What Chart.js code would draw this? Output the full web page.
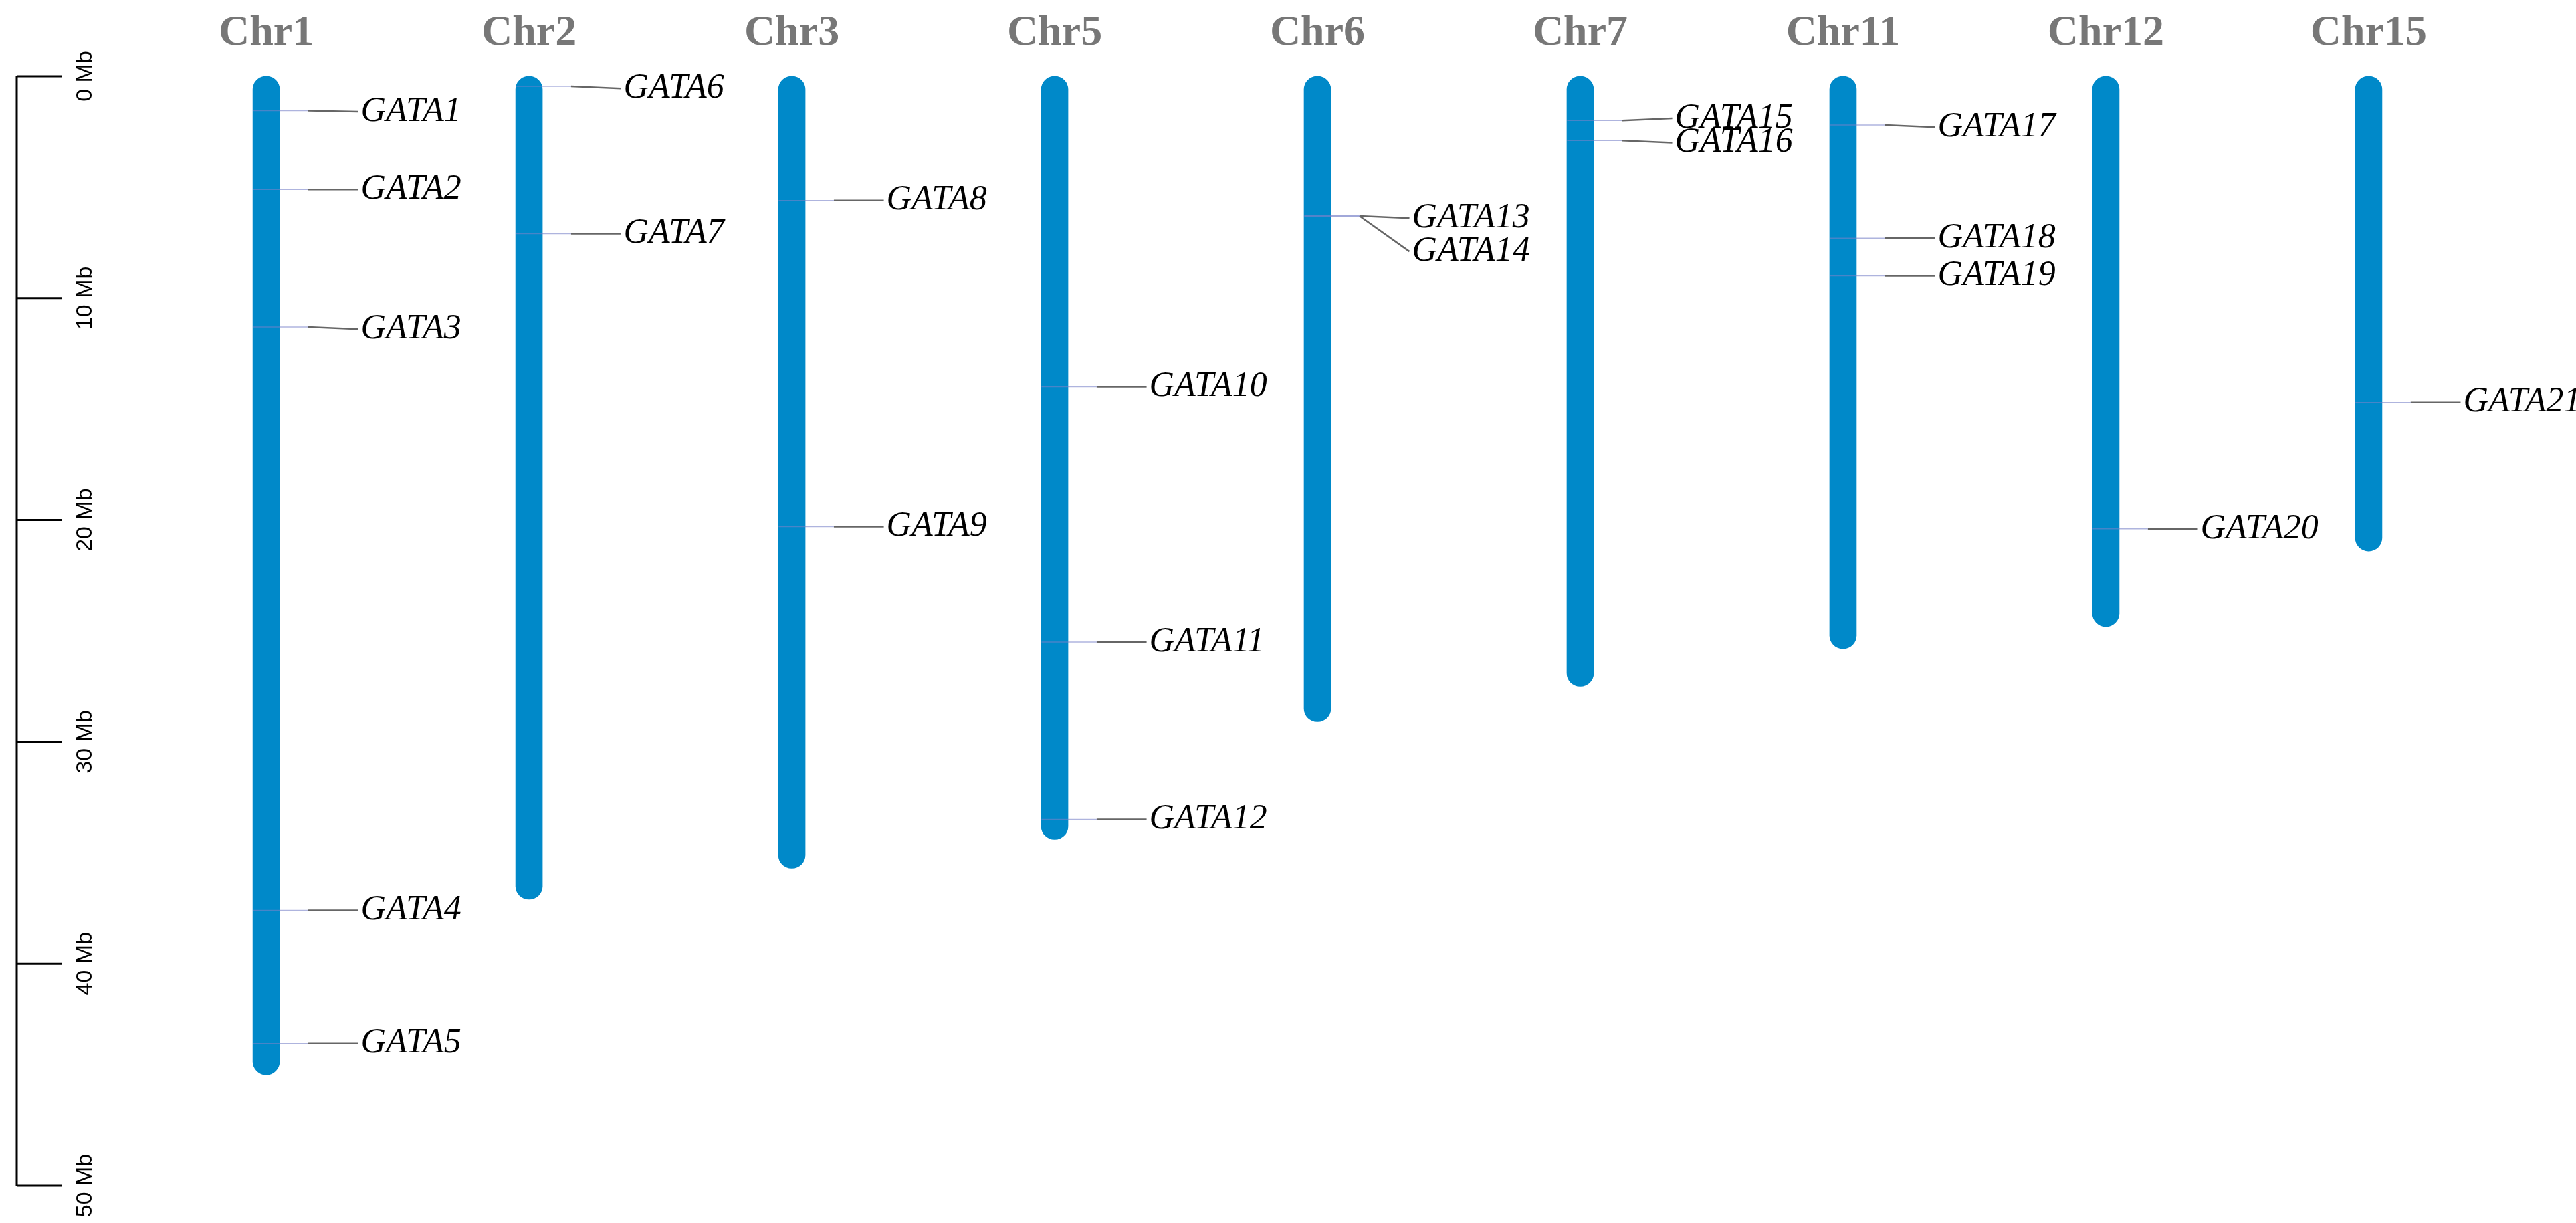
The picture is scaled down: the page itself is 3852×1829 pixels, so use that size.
<!DOCTYPE html>
<html>
<head>
<meta charset="utf-8">
<script src="https://cdn.jsdelivr.net/npm/chart.js@4.4.0/dist/chart.umd.min.js"></script>
<style>
  html, body { margin: 0; padding: 0; background: #fff; }
  #wrap { width: 3852px; height: 1829px; }
</style>
</head>
<body>
<div id="wrap"><canvas id="chart"></canvas></div>
<script>
// chromosome names and lengths (Mb)
const chromosomes = ['Chr1', 'Chr2', 'Chr3', 'Chr5', 'Chr6', 'Chr7', 'Chr11', 'Chr12', 'Chr15'];
const chrLengths = [45.0, 37.1, 35.7, 34.4, 29.1, 27.5, 25.8, 24.8, 21.4];

// genes: name, chromosome index, position (Mb), label position (Mb)
const geneNames = ['GATA1', 'GATA2', 'GATA3', 'GATA4', 'GATA5', 'GATA6', 'GATA7', 'GATA8', 'GATA9', 'GATA10',
  'GATA11', 'GATA12', 'GATA13', 'GATA14', 'GATA15', 'GATA16', 'GATA17', 'GATA18', 'GATA19', 'GATA20', 'GATA21'];
const geneChr = [0, 0, 0, 0, 0, 1, 1, 2, 2, 3, 3, 3, 4, 4, 5, 5, 6, 6, 6, 7, 8];
const genePos = [1.55, 5.1, 11.3, 37.6, 43.6, 0.45, 7.1, 5.6, 20.3, 14.0, 25.5, 33.5, 6.3, 6.3, 2.0, 2.9, 2.2, 7.3, 9.0, 20.4, 14.7];
const labelPos = [1.6, 5.1, 11.4, 37.6, 43.6, 0.55, 7.1, 5.6, 20.3, 14.0, 25.5, 33.5, 6.4, 7.9, 1.9, 3.0, 2.3, 7.3, 9.0, 20.4, 14.7];

const axisTicks = [0, 10, 20, 30, 40, 50];

const chrColor = '#0089C9';

const datasets = [{
  type: 'bar',
  data: chromosomes.map((c, i) => ({ x: i, y: [0, chrLengths[i]] })),
  backgroundColor: chrColor,
  barThickness: 40,
  borderRadius: 20,
  borderSkipped: false,
  order: 2
}];

geneNames.forEach((g, k) => {
  const i = geneChr[k];
  // faint mark across the chromosome
  datasets.push({
    type: 'line',
    data: [{ x: i - 0.05, y: genePos[k] }, { x: i + 0.16, y: genePos[k] }],
    borderColor: 'rgba(120,130,200,0.6)',
    borderWidth: 1.5,
    pointRadius: 0,
    order: 1
  });
  // connector to the label
  datasets.push({
    type: 'line',
    data: [{ x: i + 0.16, y: genePos[k] }, { x: i + 0.35, y: labelPos[k] }],
    borderColor: '#666',
    borderWidth: 2.5,
    pointRadius: 0,
    order: 1
  });
});

const textPlugin = {
  id: 'texts',
  afterDraw(chart) {
    const ctx = chart.ctx;
    const xs = chart.scales.x, ys = chart.scales.y;
    ctx.save();
    // chromosome titles
    ctx.fillStyle = '#777';
    ctx.font = 'bold 64px "Liberation Serif"';
    ctx.textAlign = 'center';
    ctx.textBaseline = 'middle';
    chromosomes.forEach((c, i) => ctx.fillText(c, xs.getPixelForValue(i), 50));
    // gene labels
    ctx.fillStyle = '#000';
    ctx.font = 'italic 52px "Liberation Serif"';
    ctx.textAlign = 'left';
    geneNames.forEach((g, k) => {
      ctx.fillText(g, xs.getPixelForValue(geneChr[k] + 0.36), ys.getPixelForValue(labelPos[k]));
    });
    // scale bar
    const top = ys.getPixelForValue(0), bottom = ys.getPixelForValue(50);
    ctx.strokeStyle = '#000';
    ctx.lineWidth = 3;
    ctx.beginPath();
    ctx.moveTo(25, top);
    ctx.lineTo(25, bottom);
    axisTicks.forEach(t => {
      const y = ys.getPixelForValue(t);
      ctx.moveTo(25, y);
      ctx.lineTo(92, y);
    });
    ctx.stroke();
    ctx.font = '34px "Liberation Sans"';
    ctx.textAlign = 'center';
    axisTicks.forEach(t => {
      ctx.save();
      ctx.translate(128, ys.getPixelForValue(t));
      ctx.rotate(-Math.PI / 2);
      ctx.fillText(t + ' Mb', 0, 0);
      ctx.restore();
    });
    ctx.restore();
  }
};

new Chart(document.getElementById('chart'), {
  data: { datasets },
  options: {
    responsive: true,
    maintainAspectRatio: false,
    animation: false,
    layout: { padding: { top: 114, bottom: 56, left: 0, right: 0 } },
    plugins: { legend: { display: false }, tooltip: { enabled: false } },
    scales: {
      x: { type: 'linear', min: -1.013, max: 8.789, offset: false, display: false },
      y: { type: 'linear', min: 0, max: 50, reverse: true, display: false }
    }
  },
  plugins: [textPlugin]
});
</script>
</body>
</html>
